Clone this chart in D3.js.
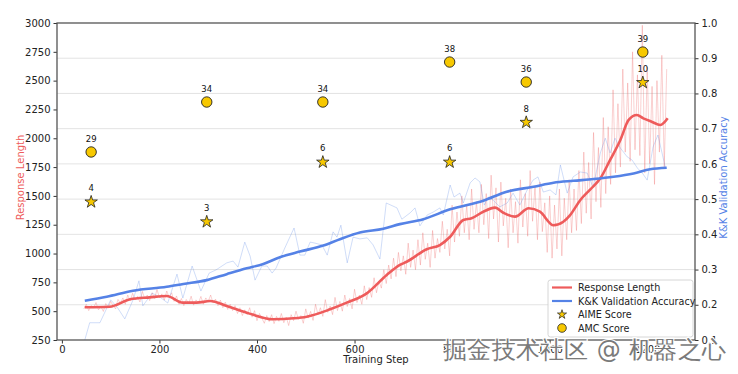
<!DOCTYPE html>
<html>
<head>
  <meta charset="utf-8">
  <script src="https://cdn.jsdelivr.net/npm/d3@7"></script>
  <style>
    body { margin: 0; background: #fff; }
    text { font-family: "DejaVu Sans", sans-serif; }
  </style>
</head>
<body>
<div id="viz"></div>
<script>
// ---- data ----
// smoothed response length [step, tokens]
var lenSmooth = [[47,534],[98,539],[140,603],[180,620],[215,632],[248,574],[276,574],[304,588],
  [338,545],[379,487],[433,430],[475,438],[502,452],[550,516],[584,574],[625,655],[666,814],
  [693,901],[707,929],[748,1037],[775,1074],[796,1146],[823,1291],[840,1306],[864,1363],[888,1398],
  [905,1354],[929,1320],[957,1393],[980,1363],[1008,1245],[1028,1276],[1042,1334],[1063,1465],
  [1083,1555],[1104,1653],[1124,1812],[1145,1985],[1162,2159],[1179,2202],[1192,2173],[1209,2144],
  [1227,2115],[1242,2173]];

// raw response length, one value every 5 steps from step 45
var lenRawStart = 45, lenRawStride = 5;
var lenRaw = [520,560,505,548,530,575,512,540,498,566,530,585,548,520,602,570,615,560,640,590,
  655,598,628,580,672,605,640,592,660,610,688,618,650,596,675,620,660,585,632,560,
  610,548,602,565,630,552,598,570,628,560,615,585,640,572,605,548,596,530,578,515,560,
  505,548,480,530,462,512,470,530,448,505,418,480,440,395,462,410,470,392,455,412,
  480,400,448,375,470,418,500,430,462,395,520,440,498,420,560,470,530,455,600,490,
  545,470,620,505,585,500,640,540,610,520,690,575,640,560,720,600,705,620,790,660,760,
  700,860,740,900,780,960,800,1010,850,980,820,1090,880,1030,860,1120,900,1180,950,1090,
  880,1200,960,1130,1010,1280,1040,1210,980,1420,1100,1360,1150,1500,1180,1420,1120,1560,1210,1450,
  1180,1600,1250,1520,1130,1680,1300,1570,1100,1620,1240,1480,1050,1560,1180,1450,1090,1640,1230,1520,
  1150,1720,1280,1580,1120,1620,1190,1440,1010,1500,960,1420,1040,1560,980,1480,1120,1640,1180,1560,
  1200,1720,1260,1880,1350,1790,1300,2050,1450,1920,1400,2180,1520,2100,1600,2420,1700,2300,1750,2600,
  1880,2480,1800,2750,1900,2550,1850,2980,1700,2620,1780,2450,1600,2500,1880,2720,1750,2600];

// smoothed K&K validation accuracy [step, acc]
var accSmooth = [[47,0.2115],[92,0.223],[146,0.240],[215,0.251],[249,0.259],[297,0.270],[338,0.287],
  [379,0.3035],[413,0.316],[447,0.335],[488,0.351],[536,0.368],[570,0.386],[611,0.405],[659,0.416],
  [693,0.429],[741,0.443],[796,0.471],[864,0.4955],[912,0.521],[967,0.535],[1008,0.5465],[1049,0.552],
  [1090,0.557],[1131,0.5636],[1172,0.573],[1206,0.5846],[1240,0.589]];

// raw K&K validation accuracy [step, acc]
var accRaw = [[47,0.100],[57,0.149],[78,0.149],[100,0.214],[113,0.194],[129,0.160],[146,0.214],
  [158,0.268],[166,0.197],[185,0.233],[201,0.222],[217,0.205],[236,0.287],[248,0.219],[267,0.310],
  [285,0.239],[302,0.290],[316,0.299],[338,0.319],[351,0.324],[361,0.307],[375,0.378],[386,0.338],
  [396,0.270],[410,0.310],[421,0.310],[431,0.290],[439,0.304],[457,0.361],[476,0.418],[488,0.341],
  [498,0.341],[509,0.378],[519,0.375],[533,0.370],[544,0.341],[556,0.407],[564,0.392],[572,0.426],
  [585,0.319],[597,0.392],[611,0.387],[626,0.390],[638,0.370],[652,0.330],[665,0.489],[687,0.475],
  [697,0.443],[714,0.461],[724,0.475],[734,0.424],[749,0.455],[761,0.463],[775,0.475],[782,0.455],
  [796,0.540],[804,0.506],[816,0.517],[823,0.489],[837,0.546],[847,0.560],[857,0.549],[866,0.483],
  [874,0.506],[884,0.497],[898,0.478],[913,0.489],[925,0.517],[939,0.483],[954,0.526],[966,0.554],
  [976,0.563],[987,0.520],[1001,0.526],[1013,0.512],[1022,0.597],[1036,0.517],[1048,0.563],[1063,0.577],
  [1077,0.574],[1089,0.534],[1104,0.631],[1114,0.673],[1124,0.631],[1134,0.673],[1145,0.645],
  [1159,0.620],[1169,0.611],[1180,0.588],[1190,0.574],[1200,0.554],[1212,0.648],[1222,0.682],[1237,0.591]];

// benchmark checkpoints
var evalSteps = [60, 297, 535, 795, 952, 1191];
var aimeScores = [4, 3, 6, 6, 8, 10];
var amcScores = [29, 34, 34, 38, 36, 39];

var lenTicks = [250,500,750,1000,1250,1500,1750,2000,2250,2500,2750,3000];
var accTicks = [0.1,0.2,0.3,0.4,0.5,0.6,0.7,0.8,0.9,1.0];
var stepTicks = [0,200,400,600,800,1000,1200];

// ---- layout ----
var W = 738, H = 374;
var padL = 57, padR = 695, padT = 23, padB = 340;
var red = "#ee5b5b", blue = "#5582e6", gold = "#f7c800";

var svg = d3.select("#viz").append("svg").attr("width", W).attr("height", H);

var x = d3.scaleLinear().domain([-10, 1298]).range([padL, padR]);
var yL = d3.scaleLinear().domain([250, 3000]).range([padB, padT]);
var yR = d3.scaleLinear().domain([0.1, 1.0]).range([padB, padT]);
// scores are drawn against the length axis
var aimeToLen = d3.scaleLinear().domain([3, 10]).range([1282, 2490]);
var amcToLen = d3.scaleLinear().domain([29, 39]).range([1881, 2748]);

// grid from the right axis
svg.append("g").selectAll("line").data(accTicks.slice(1, -1)).join("line")
  .attr("x1", padL).attr("x2", padR)
  .attr("y1", d => yR(d)).attr("y2", d => yR(d))
  .attr("stroke", "#dcdcdc").attr("stroke-width", 0.8);

svg.append("clipPath").attr("id", "clip").append("rect")
  .attr("x", padL).attr("y", padT).attr("width", padR - padL).attr("height", padB - padT);
var plot = svg.append("g").attr("clip-path", "url(#clip)");

var lineL = d3.line().x(d => x(d[0])).y(d => yL(d[1]));
var lineR = d3.line().x(d => x(d[0])).y(d => yR(d[1]));

plot.append("path").datum(lenRaw.map((v, i) => [lenRawStart + i * lenRawStride, v]))
  .attr("d", lineL).attr("fill", "none").attr("stroke", red)
  .attr("stroke-opacity", 0.28).attr("stroke-width", 1);
plot.append("path").datum(accRaw)
  .attr("d", lineR).attr("fill", "none").attr("stroke", blue)
  .attr("stroke-opacity", 0.35).attr("stroke-width", 0.8);
plot.append("path").datum(lenSmooth)
  .attr("d", lineL.curve(d3.curveMonotoneX)).attr("fill", "none").attr("stroke", red)
  .attr("stroke-width", 2.6);
plot.append("path").datum(accSmooth)
  .attr("d", lineR.curve(d3.curveMonotoneX)).attr("fill", "none").attr("stroke", blue)
  .attr("stroke-width", 2.6);

// markers
var star = d3.symbol().type(d3.symbolStar).size(48);
var marks = svg.append("g");
evalSteps.forEach(function(s, i) {
  var cx = x(s);
  var cyA = yL(amcToLen(amcScores[i]));
  var cyS = yL(aimeToLen(aimeScores[i]));
  marks.append("circle").attr("cx", cx).attr("cy", cyA).attr("r", 5.2)
    .attr("fill", gold).attr("stroke", "#222").attr("stroke-width", 0.9);
  marks.append("text").attr("x", cx).attr("y", cyA - 10).attr("text-anchor", "middle")
    .attr("font-size", 8.5).attr("fill", "#111").text(amcScores[i]);
  marks.append("path").attr("d", star).attr("transform", "translate(" + cx + "," + (cyS + 0.8) + ")")
    .attr("fill", gold).attr("stroke", "#222").attr("stroke-width", 0.8);
  marks.append("text").attr("x", cx).attr("y", cyS - 10).attr("text-anchor", "middle")
    .attr("font-size", 8.5).attr("fill", "#111").text(aimeScores[i]);
});

// axes
function styleAxis(g) {
  g.select(".domain").remove();
  g.selectAll(".tick line").attr("stroke", "#333");
  g.selectAll("text").attr("font-size", 10).attr("fill", "#222")
    .attr("font-family", "DejaVu Sans, sans-serif");
}
svg.append("g").attr("transform", "translate(" + padL + ",0)")
  .call(d3.axisLeft(yL).tickValues(lenTicks).tickFormat(d3.format("d")).tickSize(3.5).tickPadding(3))
  .call(styleAxis);
svg.append("g").attr("transform", "translate(" + padR + ",0)")
  .call(d3.axisRight(yR).tickValues(accTicks).tickFormat(d3.format(".1f")).tickSize(3.5).tickPadding(3))
  .call(styleAxis);
svg.append("g").attr("transform", "translate(0," + padB + ")")
  .call(d3.axisBottom(x).tickValues(stepTicks).tickFormat(d3.format("d")).tickSize(3.5).tickPadding(2))
  .call(styleAxis);

svg.append("rect").attr("x", padL).attr("y", padT).attr("width", padR - padL).attr("height", padB - padT)
  .attr("fill", "none").attr("stroke", "#555").attr("stroke-width", 1.3);

svg.append("text").attr("x", (padL + padR) / 2).attr("y", 363).attr("text-anchor", "middle")
  .attr("font-size", 10).attr("fill", "#222").text("Training Step");
svg.append("text").attr("transform", "translate(24," + ((padT + padB) / 2 - 4) + ") rotate(-90)")
  .attr("text-anchor", "middle").attr("font-size", 10).attr("fill", red).text("Response Length");
svg.append("text").attr("transform", "translate(727," + ((padT + padB) / 2 - 4) + ") rotate(-90)")
  .attr("text-anchor", "middle").attr("font-size", 10).attr("fill", blue).text("K&K Validation Accuracy");

// legend
var lg = svg.append("g").attr("transform", "translate(548,280)");
lg.append("rect").attr("width", 145).attr("height", 57).attr("rx", 2.5)
  .attr("fill", "#fff").attr("fill-opacity", 0.85).attr("stroke", "#ccc").attr("stroke-width", 0.8);
var items = ["Response Length", "K&K Validation Accuracy", "AIME Score", "AMC Score"];
items.forEach(function(t, i) {
  var yy = 7.5 + i * 13.5;
  if (i === 0 || i === 1) {
    lg.append("line").attr("x1", 4).attr("x2", 24).attr("y1", yy).attr("y2", yy)
      .attr("stroke", i === 0 ? red : blue).attr("stroke-width", 2.2);
  } else if (i === 2) {
    lg.append("path").attr("d", d3.symbol().type(d3.symbolStar).size(26))
      .attr("transform", "translate(14," + yy + ")").attr("fill", gold).attr("stroke", "#222").attr("stroke-width", 0.7);
  } else {
    lg.append("circle").attr("cx", 14).attr("cy", yy).attr("r", 4.3)
      .attr("fill", gold).attr("stroke", "#222").attr("stroke-width", 0.8);
  }
  lg.append("text").attr("x", 30).attr("y", yy + 3.6).attr("font-size", 9.6).attr("fill", "#222").text(t);
});

// watermark
svg.append("text").attr("x", 443).attr("y", 358)
  .attr("font-family", "Noto Sans CJK SC, sans-serif").attr("font-size", 24)
  .attr("fill", "#7a7a7a").attr("stroke", "#fff").attr("stroke-width", 2.2)
  .attr("paint-order", "stroke").attr("letter-spacing", 0.3)
  .text("掘金技术社区 @ 机器之心");
</script>
</body>
</html>
